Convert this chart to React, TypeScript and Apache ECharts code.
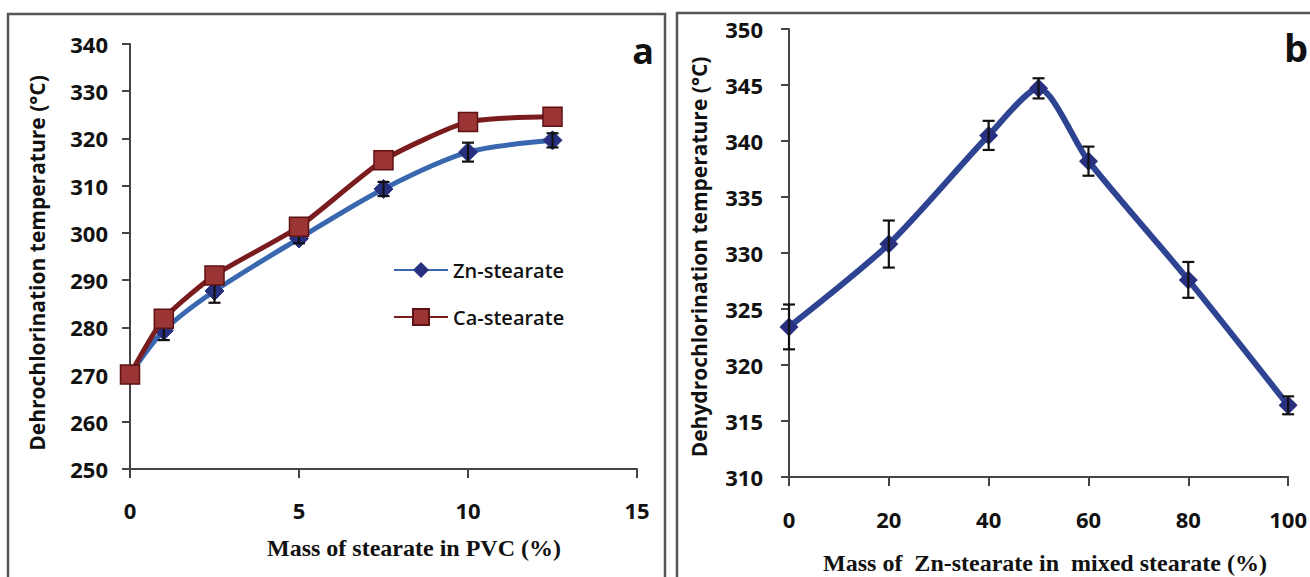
import React, { useEffect, useRef } from "react";
import * as echarts from "echarts";

// Panel a data
const xA = [0, 1, 2.5, 5, 7.5, 10, 12.5];
const znA = [270, 279.3, 287.7, 298.8, 309.3, 317.1, 319.6];
const znErrA = [0, 2, 2.5, 1, 1.5, 2, 1.5];
const caA = [270, 281.8, 291, 301.3, 315.4, 323.5, 324.6];
const caErrA = [0, 1, 1, 1, 1, 1, 1.5];
const xTicksA = [0, 5, 10, 15];
const yTicksA = [250, 340];

// Panel b data
const xB = [0, 20, 40, 50, 60, 80, 100];
const tB = [323.4, 330.8, 340.5, 344.7, 338.2, 327.6, 316.4];
const errB = [2, 2.1, 1.3, 0.9, 1.3, 1.6, 0.8];
const xTicksB = [0, 100];
const yTicksB = [310, 350];

const SANS = "'Open Sans', 'Noto Sans', sans-serif";
const SERIF = "'Liberation Serif', 'DejaVu Serif', serif";

function errorSeries(xs: number[], ys: number[], es: number[], xi: number, yi: number, z: number) {
  return {
    type: "custom",
    xAxisIndex: xi,
    yAxisIndex: yi,
    z,
    silent: true,
    data: xs.map((x, i) => [x, ys[i], es[i]]),
    renderItem: (params: any, api: any) => {
      const x = api.value(0);
      const y = api.value(1);
      const e = api.value(2);
      if (!e) return null;
      const top = api.coord([x, y + e]);
      const bot = api.coord([x, y - e]);
      const w = 6;
      const st = { stroke: "#111", lineWidth: 2.2 };
      return {
        type: "group",
        children: [
          { type: "line", shape: { x1: top[0], y1: top[1], x2: bot[0], y2: bot[1] }, style: st },
          { type: "line", shape: { x1: top[0] - w, y1: top[1], x2: top[0] + w, y2: top[1] }, style: st },
          { type: "line", shape: { x1: bot[0] - w, y1: bot[1], x2: bot[0] + w, y2: bot[1] }, style: st },
        ],
      };
    },
  };
}

const axisLine = { show: true, lineStyle: { color: "#444", width: 2 } };
const tickLabel = { color: "#111", fontFamily: SANS, fontWeight: "bold" as const, fontSize: 22 };

export default function App() {
  const ref = useRef<HTMLDivElement>(null);
  useEffect(() => {
    if (!ref.current) return;
    const chart = echarts.init(ref.current, undefined, { renderer: "svg" });
    chart.setOption({
      animation: false,
      backgroundColor: "#fff",
      grid: [
        { left: 130, top: 44, width: 507, height: 425 },
        { left: 789, top: 29, width: 514, height: 448 },
      ],
      xAxis: [
        {
          type: "value", gridIndex: 0, min: xTicksA[0], max: xTicksA[3], interval: 5,
          axisLine, axisTick: { show: true, inside: false, length: 9, lineStyle: { color: "#444", width: 2 } },
          splitLine: { show: false },
          axisLabel: { ...tickLabel, margin: 30 },
        },
        {
          type: "value", gridIndex: 1, min: xTicksB[0], max: xTicksB[1], interval: 20,
          axisLine, axisTick: { show: true, inside: false, length: 9, lineStyle: { color: "#444", width: 2 } },
          splitLine: { show: false },
          axisLabel: { ...tickLabel, margin: 31 },
        },
      ],
      yAxis: [
        {
          type: "value", gridIndex: 0, min: yTicksA[0], max: yTicksA[1], interval: 10,
          axisLine, axisTick: { show: true, length: 8, lineStyle: { color: "#444", width: 2 } },
          splitLine: { show: false },
          axisLabel: { ...tickLabel, margin: 22 },
        },
        {
          type: "value", gridIndex: 1, min: yTicksB[0], max: yTicksB[1], interval: 5,
          axisLine, axisTick: { show: true, length: 8, lineStyle: { color: "#444", width: 2 } },
          splitLine: { show: false },
          axisLabel: { ...tickLabel, margin: 26 },
        },
      ],
      legend: {
        data: ["Zn-stearate", "Ca-stearate"],
        orient: "vertical",
        left: 388,
        top: 255,
        itemWidth: 54,
        itemHeight: 20,
        itemGap: 27,
        textStyle: { fontFamily: SANS, fontSize: 20, fontWeight: 600, color: "#111" },
      },
      series: [
        {
          name: "Zn-stearate",
          type: "line",
          xAxisIndex: 0, yAxisIndex: 0,
          data: xA.map((x, i) => [x, znA[i]]),
          smooth: 0.3,
          symbol: "diamond",
          symbolSize: 19,
          lineStyle: { color: "#3a68b0", width: 5 },
          itemStyle: { color: "#27307e", borderColor: "#27307e" },
          z: 3,
        },
        {
          name: "Ca-stearate",
          type: "line",
          xAxisIndex: 0, yAxisIndex: 0,
          data: xA.map((x, i) => [x, caA[i]]),
          smooth: 0.2,
          symbol: "rect",
          symbolSize: 19,
          lineStyle: { color: "#7a1c1e", width: 5 },
          itemStyle: { color: "#9b3434", borderColor: "#5e1214", borderWidth: 1.5 },
          z: 4,
        },
        errorSeries(xA, znA, znErrA, 0, 0, 3.5),
        errorSeries(xA, caA, caErrA, 0, 0, 2),
        {
          name: "b",
          type: "line",
          xAxisIndex: 1, yAxisIndex: 1,
          data: xB.map((x, i) => [x, tB[i]]),
          smooth: 0.25,
          symbol: "diamond",
          symbolSize: 19,
          lineStyle: { color: "#2e4391", width: 6 },
          itemStyle: { color: "#28307f" },
          z: 3,
        },
        errorSeries(xB, tB, errB, 1, 1, 5),
      ],
      graphic: [
        { type: "rect", shape: { x: 8, y: 14, width: 657, height: 620 }, style: { fill: "none", stroke: "#555", lineWidth: 2.5 }, silent: true },
        { type: "rect", shape: { x: 677, y: 13, width: 700, height: 620 }, style: { fill: "none", stroke: "#555", lineWidth: 2.5 }, silent: true },
        { type: "text", x: 643, y: 50, style: { text: "a", fontFamily: SANS, fontWeight: "bold", fontSize: 36, fill: "#111", align: "center", verticalAlign: "middle" } },
        { type: "text", x: 1296, y: 47, style: { text: "b", fontFamily: SANS, fontWeight: "bold", fontSize: 38, fill: "#111", align: "center", verticalAlign: "middle" } },
        { type: "text", x: 37, y: 263, rotation: Math.PI / 2, style: { text: "Dehrochlorination temperature (°C)", fontFamily: SANS, fontWeight: "bold", fontSize: 21, fill: "#111", align: "center", verticalAlign: "middle" } },
        { type: "text", x: 699, y: 257, rotation: Math.PI / 2, style: { text: "Dehydrochlorination temperature (°C)", fontFamily: SANS, fontWeight: "bold", fontSize: 21, fill: "#111", align: "center", verticalAlign: "middle" } },
        { type: "text", x: 414, y: 548, style: { text: "Mass of stearate in PVC (%)", fontFamily: SERIF, fontWeight: "bold", fontSize: 24, fill: "#111", align: "center", verticalAlign: "middle" } },
        { type: "text", x: 1045, y: 563, style: { text: "Mass of  Zn-stearate in  mixed stearate (%)", fontFamily: SERIF, fontWeight: "bold", fontSize: 24, fill: "#111", align: "center", verticalAlign: "middle" } },
      ],
    });
    return () => chart.dispose();
  }, []);
  return <div ref={ref} style={{ position: "fixed", left: 0, top: 0, width: 1310, height: 577, background: "#fff" }} />;
}
